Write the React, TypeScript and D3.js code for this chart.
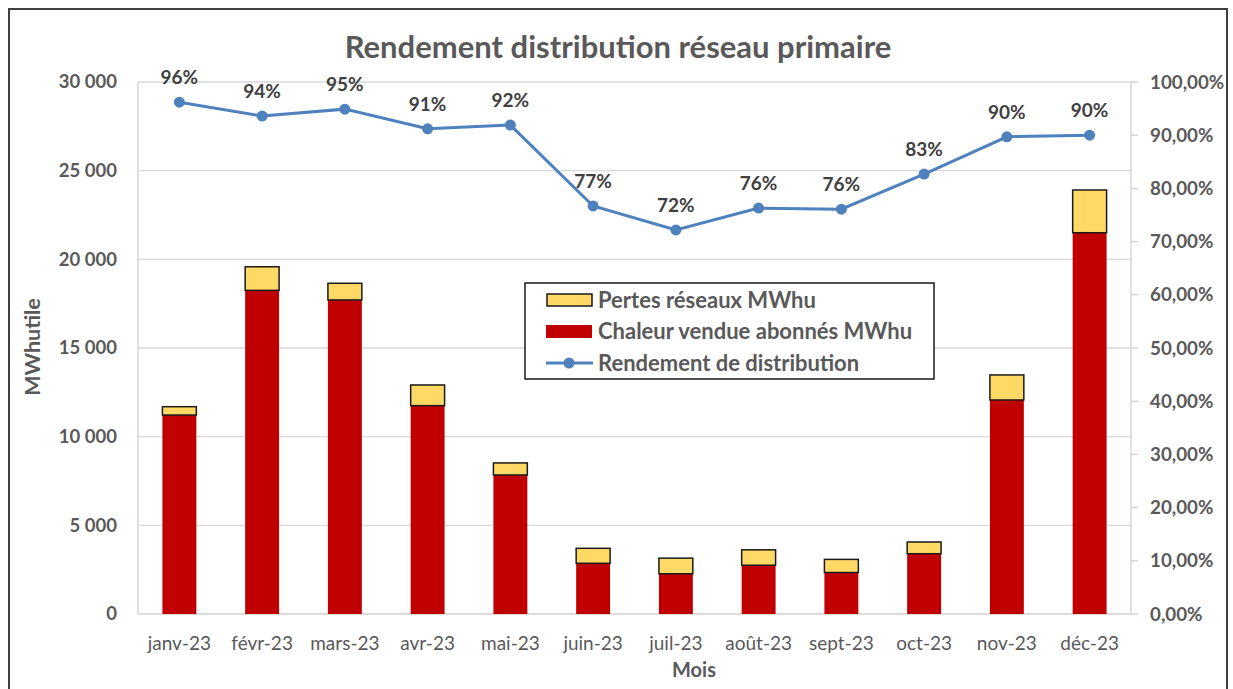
import React, { useEffect } from 'react'
import * as d3 from 'd3'

// months of 2023
const months = ['janv-23', 'févr-23', 'mars-23', 'avr-23', 'mai-23', 'juin-23', 'juil-23', 'août-23', 'sept-23', 'oct-23', 'nov-23', 'déc-23']
// heat sold to subscribers, MWh
const chaleurVendue = [11220, 18250, 17710, 11750, 7840, 2860, 2270, 2750, 2340, 3400, 12070, 21500]
// network losses, MWh
const pertesReseau = [470, 1330, 940, 1165, 680, 845, 880, 870, 740, 660, 1410, 2410]
// distribution efficiency
const rendement = [0.962, 0.936, 0.949, 0.912, 0.919, 0.767, 0.722, 0.763, 0.761, 0.827, 0.897, 0.9]

const leftTicks = [0, 5000, 10000, 15000, 20000, 25000, 30000]
const rightTicks = [0, 0.1, 0.2, 0.3, 0.4, 0.5, 0.6, 0.7, 0.8, 0.9, 1]

const W = 1233
const H = 689
const margin = { left: 138, right: 102, top: 82, bottom: 75 }
const font = 'Lato, "Liberation Sans", Arial, sans-serif'
const grey = '#595959'

export default function App() {
    useEffect(() => {
        document.body.style.margin = '0'
    }, [])

    const x = d3.scaleBand<string>()
        .domain(months)
        .range([margin.left, W - margin.right])
        .paddingInner(0.59)
        .paddingOuter(0.295)
    const y = d3.scaleLinear().domain([0, 30000]).range([H - margin.bottom, margin.top])
    const yPct = d3.scaleLinear().domain([0, 1]).range([H - margin.bottom, margin.top])

    const fmtThousands = (v: number) => d3.format(',')(v).replace(/,/g, ' ')
    const fmtPct = (v: number) => (v * 100).toFixed(2).replace('.', ',') + '%'

    const cx = (m: string) => (x(m) as number) + x.bandwidth() / 2
    const line = d3.line<number>()
        .x((_, i) => cx(months[i]))
        .y(d => yPct(d))

    const x0 = margin.left
    const x1 = W - margin.right
    const y0 = H - margin.bottom

    return (
        <svg width={W} height={H} style={{ display: 'block', background: '#fff' }} fontFamily={font}>
            <rect x={9} y={9} width={1218} height={700} fill="#fff" stroke="#404040" strokeWidth={2} />

            <text x={618} y={58} textAnchor="middle" fontSize={31} fontWeight="bold" fill={grey}>
                Rendement distribution réseau primaire
            </text>

            {leftTicks.map(t => (
                <g key={'g' + t}>
                    {t > 0 && <line x1={x0} x2={x1} y1={y(t)} y2={y(t)} stroke="#d9d9d9" strokeWidth={1.3} />}
                    <text x={117} y={y(t)} dy="0.35em" textAnchor="end" fontSize={18.5} fontWeight="bold" fill={grey}>
                        {fmtThousands(t)}
                    </text>
                </g>
            ))}

            <line x1={x0} x2={x0} y1={margin.top} y2={y0} stroke="#d0d0d0" strokeWidth={1.3} />
            <line x1={x1} x2={x1} y1={margin.top} y2={y0} stroke="#d0d0d0" strokeWidth={1.3} />
            <line x1={x0} x2={x1} y1={y0} y2={y0} stroke="#d0d0d0" strokeWidth={1.3} />

            {rightTicks.map(t => (
                <g key={'r' + t}>
                    <line x1={x1} x2={x1 + 7} y1={yPct(t)} y2={yPct(t)} stroke="#d0d0d0" strokeWidth={1.3} />
                    <text x={1150} y={yPct(t)} dy="0.35em" fontSize={18.8} fontWeight="bold" fill={grey}>
                        {fmtPct(t)}
                    </text>
                </g>
            ))}

            {months.map((m, i) => (
                <g key={m}>
                    <rect x={x(m)} y={y(chaleurVendue[i])} width={x.bandwidth()} height={y0 - y(chaleurVendue[i])} fill="#c00000" />
                    <rect x={x(m)} y={y(chaleurVendue[i] + pertesReseau[i])} width={x.bandwidth()}
                        height={y(chaleurVendue[i]) - y(chaleurVendue[i] + pertesReseau[i])}
                        fill="#ffd966" stroke="#1a1a1a" strokeWidth={1.5} />
                    <text x={cx(m)} y={650} textAnchor="middle" fontSize={19} fill={grey}>{m}</text>
                </g>
            ))}

            <path d={line(rendement) || ''} fill="none" stroke="#4f81bd" strokeWidth={3} />
            {rendement.map((r, i) => (
                <g key={'p' + i}>
                    <circle cx={cx(months[i])} cy={yPct(r)} r={5.5} fill="#4f81bd" />
                    <text x={cx(months[i])} y={yPct(r) - 18} textAnchor="middle" fontSize={19} fontWeight="bold" fill="#404040">
                        {Math.round(r * 100) + '%'}
                    </text>
                </g>
            ))}

            <text x={694} y={677} textAnchor="middle" fontSize={20} fontWeight="bold" fill={grey}>Mois</text>
            <text transform="translate(40,347) rotate(-90)" textAnchor="middle" fontSize={21.5} fontWeight="bold" fill={grey}>MWhutile</text>

            <g>
                <rect x={525} y={283} width={409} height={96} fill="#fff" stroke="#1a1a1a" strokeWidth={1.5} />
                <rect x={547} y={294} width={45} height={12} fill="#ffd966" stroke="#1a1a1a" strokeWidth={1.5} />
                <text x={598} y={300} dy="0.35em" fontSize={22} fontWeight="bold" fill={grey}>Pertes réseaux MWhu</text>
                <rect x={546} y={325} width={46} height={13} fill="#c00000" />
                <text x={598} y={331} dy="0.35em" fontSize={22} fontWeight="bold" fill={grey}>Chaleur vendue abonnés MWhu</text>
                <line x1={546} x2={593} y1={363} y2={363} stroke="#4f81bd" strokeWidth={3} />
                <circle cx={569} cy={363} r={5.5} fill="#4f81bd" />
                <text x={598} y={363} dy="0.35em" fontSize={22} fontWeight="bold" fill={grey}>Rendement de distribution</text>
            </g>
        </svg>
    )
}
